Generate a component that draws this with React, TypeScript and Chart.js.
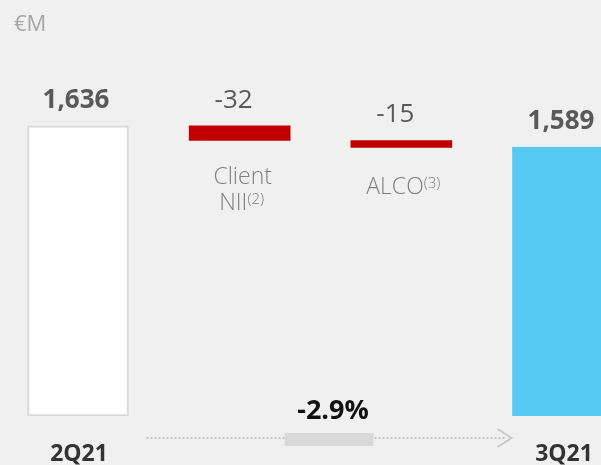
import React, { useEffect, useRef } from "react";
import { Chart, registerables } from "chart.js";

Chart.register(...registerables);

const categories = ["2Q21", "Client", "ALCO", "3Q21"];
const secondLines = ["", "NII", "", ""];
const superscripts = ["", "(2)", "(3)", ""];
const values = [1636, -32, -15, 1589];
const kinds = ["total", "delta", "delta", "total"];
const valueLabels = ["1,636", "-32", "-15", "1,589"];
const unitLabel = "€M";
const AXIS_FLOOR = 1000;
const AXIS_TOP = 1912;

const FONT = "'Open Sans', 'Noto Sans', sans-serif";

function buildRanges(): [number, number][] {
  let running = 0;
  return values.map((v, i) => {
    if (kinds[i] === "total") {
      running = v;
      return [AXIS_FLOOR, v] as [number, number];
    }
    const start = running;
    running = running + v;
    return [Math.min(start, running), Math.max(start, running)] as [number, number];
  });
}

const textPlugin = {
  id: "wfText",
  beforeDraw(chart: any) {
    const ctx = chart.ctx;
    ctx.save();
    ctx.fillStyle = "#f0f0f0";
    ctx.fillRect(0, 0, chart.width, chart.height);
    ctx.restore();
  },
  afterDatasetsDraw(chart: any) {
    const ctx = chart.ctx;
    const meta = chart.getDatasetMeta(0);
    const ranges = buildRanges();
    ctx.save();
    ctx.textBaseline = "alphabetic";
    // unit
    ctx.font = `400 22px ${FONT}`;
    ctx.fillStyle = "#a6a6a6";
    ctx.textAlign = "left";
    ctx.fillText(unitLabel, 14, 31);

    meta.data.forEach((bar: any, i: number) => {
      const x = bar.x;
      const topPx = chart.scales.y.getPixelForValue(ranges[i][1]);
      const botPx = chart.scales.y.getPixelForValue(ranges[i][0]);
      const isTotal = kinds[i] === "total";
      ctx.textAlign = "center";
      ctx.fillStyle = "#595959";
      ctx.font = `${isTotal ? 700 : 400} 26px ${FONT}`;
      ctx.fillText(valueLabels[i], x - (isTotal ? 2 : 6), topPx - 18);

      if (isTotal) {
        ctx.font = `700 23px ${FONT}`;
        ctx.fillStyle = "#333333";
        ctx.fillText(categories[i], x + 1, 461);
      } else {
        ctx.font = `300 23px ${FONT}`;
        ctx.fillStyle = "#7f7f7f";
        const hasSecond = secondLines[i] !== "";
        const baseY = botPx + (hasSecond ? 44 : 47);
        if (hasSecond) {
          ctx.textAlign = "center";
          ctx.fillText(categories[i], x + 3, baseY);
        }
        const lineText = hasSecond ? secondLines[i] : categories[i];
        const lineY = hasSecond ? baseY + 26 : baseY;
        ctx.font = `300 23px ${FONT}`;
        const w1 = ctx.measureText(lineText).width;
        ctx.font = `300 15px ${FONT}`;
        const w2 = ctx.measureText(superscripts[i]).width;
        const startX = x - (w1 + w2) / 2 + 2;
        ctx.textAlign = "left";
        ctx.font = `300 23px ${FONT}`;
        ctx.fillText(lineText, startX, lineY);
        ctx.font = `300 15px ${FONT}`;
        ctx.fillText(superscripts[i], startX + w1, lineY - 6);
      }
    });

    // change arrow
    const first = meta.data[0];
    const last = meta.data[meta.data.length - 1];
    const x0 = first.x + first.width / 2 + 18;
    const x1 = last.x - last.width / 2 - 1;
    const y = 438;
    const midX = (x0 + x1) / 2;
    const pct = ((values[values.length - 1] - values[0]) / values[0]) * 100;
    const pctText = `${pct.toFixed(1)}%`;
    ctx.strokeStyle = "#c4c4c4";
    ctx.lineWidth = 2;
    ctx.setLineDash([2, 2]);
    ctx.beginPath();
    ctx.moveTo(x0, y);
    ctx.lineTo(x1 - 6, y);
    ctx.stroke();
    ctx.setLineDash([]);
    ctx.fillStyle = "#d9d9d9";
    ctx.fillRect(midX - 44.5, y - 5, 89, 13);
    ctx.strokeStyle = "#c8c8c8";
    ctx.lineWidth = 2;
    ctx.beginPath();
    ctx.moveTo(x1 - 14, y - 9);
    ctx.lineTo(x1, y);
    ctx.lineTo(x1 - 14, y + 9);
    ctx.stroke();

    ctx.textAlign = "center";
    ctx.fillStyle = "#111111";
    ctx.font = `700 27px ${FONT}`;
    ctx.fillText(pctText, midX + 4, 419);
    ctx.restore();
  },
};

export default function App() {
  const ref = useRef<HTMLCanvasElement | null>(null);
  useEffect(() => {
    if (!ref.current) return;
    const ranges = buildRanges();
    const bg = values.map((v, i) =>
      kinds[i] === "total" ? (i === 0 ? "#ffffff" : "#56caf4") : "#c00000"
    );
    const border = values.map((v, i) => (i === 0 ? "#d9d9d9" : "rgba(0,0,0,0)"));
    const bw = values.map((v, i) => (i === 0 ? 2 : 0));
    const chart = new Chart(ref.current, {
      type: "bar",
      data: {
        datasets: [
          {
            data: ranges.map((r, i) => ({ x: i, y: r })) as any,
            backgroundColor: bg,
            borderColor: border,
            borderWidth: bw,
            borderSkipped: false,
            barThickness: 101,
          },
        ],
      },
      options: {
        responsive: false,
        animation: false,
        layout: { padding: { top: 0, bottom: 49, left: 0, right: 0 } },
        plugins: { legend: { display: false }, tooltip: { enabled: false } },
        scales: {
          x: { type: "linear", min: -0.4825, max: 3.235, offset: false, display: false },
          y: { min: AXIS_FLOOR, max: AXIS_TOP, display: false },
        },
      },
      plugins: [textPlugin],
    });
    return () => chart.destroy();
  }, []);
  return (
    <div style={{ position: "fixed", left: 0, top: 0, width: 601, height: 465 }}>
      <canvas ref={ref} width={601} height={465} />
    </div>
  );
}
